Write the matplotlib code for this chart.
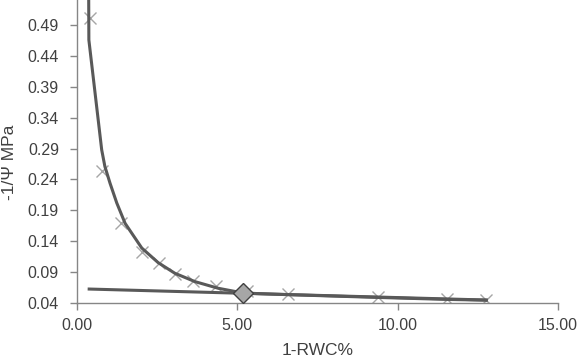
import numpy as np
import matplotlib.pyplot as plt

plt.rcParams['font.family'] = ['Liberation Sans', 'DejaVu Sans']

# measured points (1-RWC%, -1/psi)
rwc_pts = [0.40, 0.79, 1.37, 2.03, 2.55, 3.07, 3.62, 4.33, 5.30, 6.58, 9.39, 11.55, 12.76]
psi_pts = [0.501, 0.253, 0.170, 0.123, 0.104, 0.087, 0.0757, 0.0676, 0.059, 0.0545, 0.0492, 0.0460, 0.0448]

# fitted curve
curve_x = [0.36, 0.37, 0.66, 0.77, 0.87, 1.03, 1.24, 1.50, 2.02, 2.53, 3.05, 3.68, 4.40, 5.13,
           5.60, 6.58, 9.39, 11.55, 12.76]
curve_y = [0.60, 0.466, 0.337, 0.288, 0.261, 0.234, 0.202, 0.169, 0.129, 0.1054, 0.0882, 0.0746,
           0.0639, 0.0567, 0.0553, 0.0535, 0.0490, 0.0458, 0.0446]

# linear part
line_x = [0.38, 12.76]
line_y = [0.0626, 0.0448]

# turgor loss point
tlp_x = [5.19]
tlp_y = [0.0556]

xticks = [0, 5, 10, 15]
yticks = [0.04, 0.09, 0.14, 0.19, 0.24, 0.29, 0.34, 0.39, 0.44, 0.49]

fig = plt.figure(figsize=(5.82, 3.58), dpi=100)
ax = fig.add_axes([77 / 582, 55 / 358, 481 / 582, 303 / 358])

ax.plot(rwc_pts, psi_pts, linestyle='none', marker='x', markersize=8,
        markeredgewidth=1.0, color='#a6a6a6', zorder=2)
ax.plot(curve_x, curve_y, color='#595959', linewidth=2.2, zorder=3)
ax.plot(line_x, line_y, color='#595959', linewidth=2.2, zorder=3)
ax.plot(tlp_x, tlp_y, linestyle='none', marker='D', markersize=10,
        markerfacecolor='#a6a6a6', markeredgecolor='#404040', markeredgewidth=1.0, zorder=4)

ax.set_xlim(0, 15)
ax.set_ylim(0.04, 0.5306)
ax.set_xticks(xticks)
ax.set_xticklabels([f'{t:.2f}' for t in xticks])
ax.set_yticks(yticks)
ax.set_yticklabels([f'{t:.2f}' for t in yticks])

for side in ['top', 'right']:
    ax.spines[side].set_visible(False)
for side in ['left', 'bottom']:
    ax.spines[side].set_color('#868686')
    ax.spines[side].set_linewidth(1.0)

ax.tick_params(axis='both', colors='#868686', labelcolor='#404040',
               labelsize=11.5, length=5, width=1.0)
ax.tick_params(axis='x', pad=6)
ax.tick_params(axis='y', pad=8)

ax.set_xlabel('1-RWC%', fontsize=12.5, color='#404040', labelpad=7)
fig.text(10 / 582, 1 - 162 / 358, '-1/Ψ MPa', fontsize=12.5, color='#404040',
         rotation=90, ha='center', va='center')

fig.savefig('out.png', dpi=100)
